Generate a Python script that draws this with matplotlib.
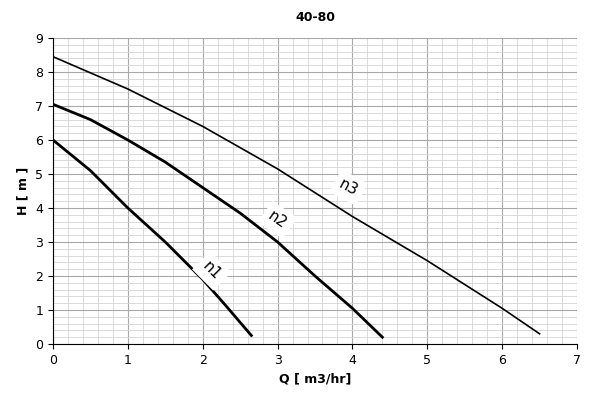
import numpy as np
import matplotlib.pyplot as plt
from matplotlib.ticker import MultipleLocator

q1 = [0, 0.5, 1.0, 1.5, 2.0, 2.3, 2.65]
h1 = [6.0, 5.1, 4.0, 3.0, 1.9, 1.15, 0.25]
q2 = [0, 0.5, 1.0, 1.5, 2.0, 2.5, 3.0, 3.5, 4.0, 4.4]
h2 = [7.05, 6.6, 6.0, 5.35, 4.6, 3.85, 3.0, 2.0, 1.05, 0.2]
q3 = [0, 1, 2, 3, 4, 5, 6, 6.5]
h3 = [8.45, 7.5, 6.4, 5.15, 3.75, 2.45, 1.05, 0.3]

fig = plt.figure(figsize=(6, 4), dpi=100)
ax = fig.add_axes([53/600, 56/400, 524/600, 306/400])

ax.plot(q1, h1, color='k', lw=2)
ax.plot(q2, h2, color='k', lw=2)
ax.plot(q3, h3, color='k', lw=1.2)

box = dict(boxstyle='square,pad=0.35', fc='white', ec='none')
ax.text(2.12, 2.15, 'n1', rotation=-45, ha='center', va='center', fontsize=11, bbox=box, zorder=4)
ax.text(3.0, 3.65, 'n2', rotation=-35, ha='center', va='center', fontsize=11, bbox=box, zorder=4)
ax.text(3.95, 4.6, 'n3', rotation=-28, ha='center', va='center', fontsize=11, bbox=box, zorder=4)

ax.set_xlim(0, 7)
ax.set_ylim(0, 9)
ax.xaxis.set_major_locator(MultipleLocator(1))
ax.yaxis.set_major_locator(MultipleLocator(1))
ax.xaxis.set_minor_locator(MultipleLocator(0.2))
ax.yaxis.set_minor_locator(MultipleLocator(0.2))
ax.grid(which='major', color='#a8a8a8', lw=0.8)
ax.grid(which='minor', color='#d4d4d4', lw=0.6)
ax.set_axisbelow(True)
for s in ['top', 'right']:
    ax.spines[s].set_visible(False)
ax.tick_params(which='minor', length=0)
ax.tick_params(labelsize=9)

ax.set_xlabel('Q [ m3/hr]', fontsize=9, fontweight='bold')
ax.set_ylabel('H [ m ]', fontsize=9, fontweight='bold')
ax.set_title('40-80', fontsize=9, fontweight='bold', pad=12)

fig.savefig('out.png')
